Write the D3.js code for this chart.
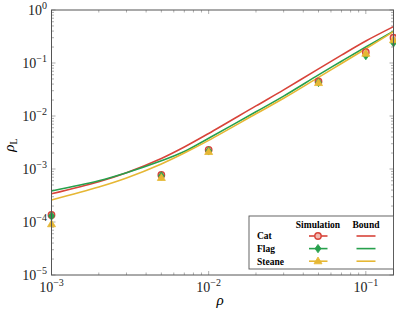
<!DOCTYPE html>
<html>
<head>
<meta charset="utf-8">
<script src="https://cdn.jsdelivr.net/npm/d3@7"></script>
<style>
  body { margin: 0; background: #fff; }
  text { font-family: "Liberation Serif", "DejaVu Serif", serif; }
</style>
</head>
<body>
<svg id="chart" width="396" height="311"></svg>
<script>
// Simulation points
const simP = [0.001, 0.005, 0.01, 0.05, 0.1, 0.15];
const simCat = [1.36e-4, 7.7e-4, 2.3e-3, 0.045, 0.16, 0.30];
const simFlag = [1.3e-4, 7.4e-4, 2.2e-3, 0.043, 0.138, 0.24];
const simSteane = [9.1e-5, 6.8e-4, 2.1e-3, 0.042, 0.15, 0.27];

// Bound curves
const boundP = [0.001, 0.002, 0.003, 0.005, 0.007, 0.01, 0.02, 0.03, 0.05, 0.07, 0.1, 0.15];
const boundCat = [3.4e-4, 5.75e-4, 8.5e-4, 1.58e-3, 2.6e-3, 4.68e-3, 0.0155, 0.0311, 0.0773, 0.1406, 0.26, 0.485];
const boundFlag = [3.85e-4, 6.0e-4, 8.5e-4, 1.43e-3, 2.14e-3, 3.8e-3, 0.012, 0.0237, 0.0596, 0.108, 0.20, 0.40];
const boundSteane = [2.6e-4, 4.57e-4, 6.76e-4, 1.245e-3, 2.0e-3, 3.47e-3, 0.011, 0.0216, 0.0537, 0.0977, 0.186, 0.39];

const xTickExp = [-3, -2, -1];
const yTickExp = [0, -1, -2, -3, -4, -5];

const RED = '#d8443a';
const GREEN = '#27a04c';
const YELLOW = '#e6b734';

const series = [
    {name: 'Cat', color: RED, sim: simCat, bound: boundCat, mark: 'circle'},
    {name: 'Flag', color: GREEN, sim: simFlag, bound: boundFlag, mark: 'diamond'},
    {name: 'Steane', color: YELLOW, sim: simSteane, bound: boundSteane, mark: 'triangle'}
];

const svg = d3.select('#chart');
const margin = {left: 51.5, right: 2.5, top: 10, bottom: 36};
const W = 396, H = 311;

const x = d3.scaleLog().domain([1e-3, 0.15]).range([margin.left, W - margin.right]);
const y = d3.scaleLog().domain([1e-5, 1]).range([H - margin.bottom, margin.top]);

const x0 = x.range()[0], x1 = x.range()[1];
const y0 = y.range()[0], y1 = y.range()[1];

// Ticks (inward, all four sides)
const ticks = svg.append('g').attr('stroke', '#777').attr('stroke-width', 0.6);
const xMinor = [], yMinor = [];
for (let e = -3; e <= -1; e++) for (let m = 1; m <= 9; m++) {
    const v = m * Math.pow(10, e);
    if (v <= 0.15) xMinor.push({v: v, major: m == 1});
}
for (let e = -5; e <= 0; e++) for (let m = 1; m <= 9; m++) {
    const v = m * Math.pow(10, e);
    if (v <= 1) yMinor.push({v: v, major: m == 1});
}
xMinor.forEach(t => {
    const len = t.major ? 4 : 2.5;
    ticks.append('line').attr('x1', x(t.v)).attr('x2', x(t.v)).attr('y1', y0).attr('y2', y0 - len);
    ticks.append('line').attr('x1', x(t.v)).attr('x2', x(t.v)).attr('y1', y1).attr('y2', y1 + len);
});
yMinor.forEach(t => {
    const len = t.major ? 4 : 2.5;
    ticks.append('line').attr('y1', y(t.v)).attr('y2', y(t.v)).attr('x1', x0).attr('x2', x0 + len);
    ticks.append('line').attr('y1', y(t.v)).attr('y2', y(t.v)).attr('x1', x1).attr('x2', x1 - len);
});

// Tick labels
function powLabel(g, e) {
    g.append('tspan').text('10');
    g.append('tspan').attr('dy', -6).attr('font-size', 10).text(e < 0 ? '\u2212' + (-e) : e);
}
xTickExp.forEach(e => {
    const t = svg.append('text').attr('x', x(Math.pow(10, e))).attr('y', 292)
        .attr('text-anchor', 'middle').attr('font-size', 14).attr('fill', '#222');
    powLabel(t, e);
});
yTickExp.forEach(e => {
    const t = svg.append('text').attr('x', 47).attr('y', y(Math.pow(10, e)) + 5)
        .attr('text-anchor', 'end').attr('font-size', 14).attr('fill', '#222');
    powLabel(t, e);
});

// Axis labels
svg.append('text').attr('x', 220).attr('y', 305).attr('text-anchor', 'middle')
    .attr('font-size', 15).attr('font-style', 'italic').text('\u03c1');
const yl = svg.append('text').attr('transform', 'translate(14,145) rotate(-90)')
    .attr('text-anchor', 'middle').attr('font-size', 15);
yl.append('tspan').attr('font-style', 'italic').text('\u03c1');
yl.append('tspan').attr('font-size', 10).attr('dy', 3).text('L');

// Clip
svg.append('clipPath').attr('id', 'clip').append('rect')
    .attr('x', x0).attr('y', y1).attr('width', x1 - x0).attr('height', y0 - y1);
const plot = svg.append('g').attr('clip-path', 'url(#clip)');

const line = d3.line().x(d => x(d[0])).y(d => y(d[1])).curve(d3.curveCatmullRom.alpha(0.5));

series.forEach(s => {
    plot.append('path').datum(boundP.map((p, i) => [p, s.bound[i]]))
        .attr('d', line).attr('fill', 'none').attr('stroke', s.color).attr('stroke-width', 1.6);
});

function drawMark(g, type, cx, cy, color) {
    if (type == 'circle') {
        g.append('circle').attr('cx', cx).attr('cy', cy).attr('r', 3.2)
            .attr('fill', '#f2b8b0').attr('stroke', color).attr('stroke-width', 1.4);
    } else if (type == 'diamond') {
        g.append('path').attr('d', `M${cx},${cy - 4.2}L${cx + 3},${cy}L${cx},${cy + 4.2}L${cx - 3},${cy}Z`)
            .attr('fill', color).attr('stroke', color).attr('stroke-width', 0.8);
    } else {
        g.append('path').attr('d', `M${cx},${cy - 4.2}L${cx + 4},${cy + 2.6}L${cx - 4},${cy + 2.6}Z`)
            .attr('fill', color).attr('stroke', color).attr('stroke-width', 0.8);
    }
}

const marks = svg.append('g');
series.forEach(s => {
    simP.forEach((p, i) => drawMark(marks, s.mark, x(p), y(s.sim[i]), s.color));
});

// Frame
svg.append('rect').attr('x', x0).attr('y', y1).attr('width', x1 - x0).attr('height', y0 - y1)
    .attr('fill', 'none').attr('stroke', '#555').attr('stroke-width', 1);

// Legend
const lg = svg.append('g');
lg.append('rect').attr('x', 249).attr('y', 216).attr('width', x1 - 249).attr('height', 53)
    .attr('fill', '#fff').attr('stroke', '#555').attr('stroke-width', 0.9);
lg.append('text').attr('x', 318).attr('y', 227.5).attr('text-anchor', 'middle')
    .attr('font-size', 9.5).attr('font-weight', 'bold').text('Simulation');
lg.append('text').attr('x', 366).attr('y', 227.5).attr('text-anchor', 'middle')
    .attr('font-size', 9.5).attr('font-weight', 'bold').text('Bound');
series.forEach((s, i) => {
    const ry = 236 + i * 12.6;
    lg.append('text').attr('x', 257).attr('y', ry + 3.3).attr('font-size', 9.5)
        .attr('font-weight', 'bold').text(s.name);
    lg.append('line').attr('x1', 309).attr('x2', 327.5).attr('y1', ry).attr('y2', ry)
        .attr('stroke', s.color).attr('stroke-width', 1.6);
    drawMark(lg, s.mark, 318, ry, s.color);
    lg.append('line').attr('x1', 356.5).attr('x2', 375.5).attr('y1', ry).attr('y2', ry)
        .attr('stroke', s.color).attr('stroke-width', 1.6);
});
</script>
</body>
</html>
